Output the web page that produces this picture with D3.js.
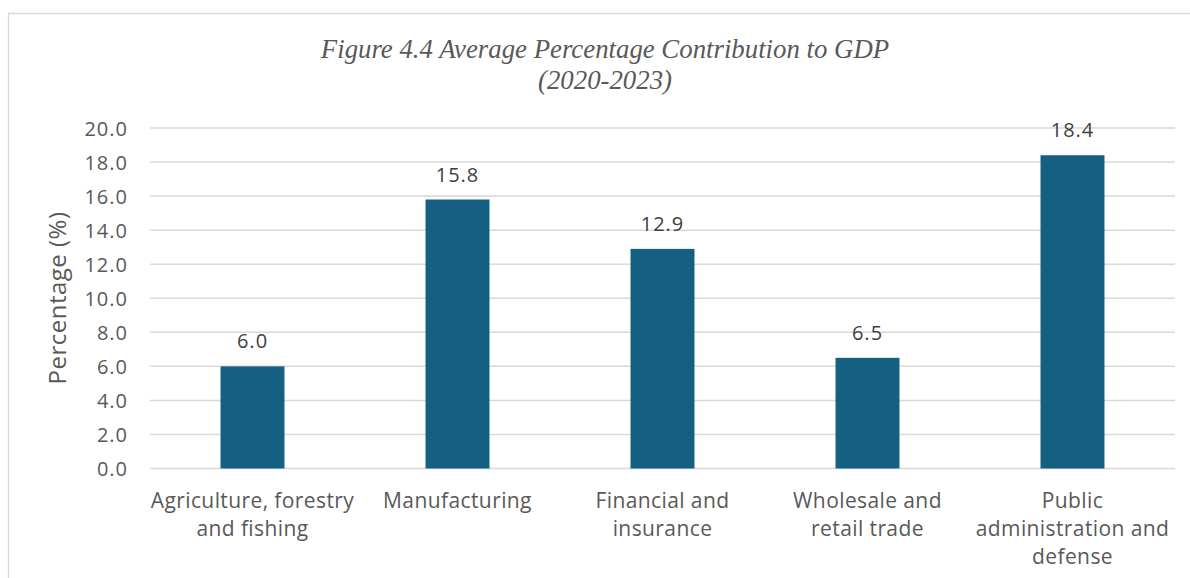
<!DOCTYPE html>
<html>
<head>
<meta charset="utf-8">
<script src="https://cdn.jsdelivr.net/npm/d3@7"></script>
<style>
  html, body { margin: 0; padding: 0; background: #fff; }
  svg { display: block; }
</style>
</head>
<body>
<svg id="chart" width="1190" height="578"></svg>
<script>
// Sectors and their average share of GDP, 2020-2023
const categories = [
  ["Agriculture, forestry", "and fishing"],
  ["Manufacturing"],
  ["Financial and", "insurance"],
  ["Wholesale and", "retail trade"],
  ["Public", "administration and", "defense"]
];
const values = [6.0, 15.8, 12.9, 6.5, 18.4];
const yTicks = [0, 2, 4, 6, 8, 10, 12, 14, 16, 18, 20];
const titleLines = ["Figure 4.4 Average Percentage Contribution to GDP", "(2020-2023)"];
const yTitle = "Percentage (%)";

const svg = d3.select("#chart");
const W = 1190, H = 578;
const plot = { left: 150, right: 1175, top: 128, bottom: 468.5 };
const sans = "'Open Sans', sans-serif";

// Outer chart frame (top and left edges are visible)
svg.append("path")
  .attr("d", `M8.5,${H} V13.5 H${W}`)
  .attr("fill", "none")
  .attr("stroke", "#d9d9d9")
  .attr("stroke-width", 1.3);

const x = d3.scaleBand()
  .domain(d3.range(categories.length))
  .range([plot.left, plot.right])
  .paddingInner(0.688)
  .paddingOuter(0.344);

const y = d3.scaleLinear()
  .domain([0, 20])
  .range([plot.bottom, plot.top]);

// Horizontal gridlines
svg.append("g")
  .selectAll("line")
  .data(yTicks)
  .join("line")
  .attr("x1", plot.left)
  .attr("x2", plot.right)
  .attr("y1", d => y(d))
  .attr("y2", d => y(d))
  .attr("stroke", "#d9d9d9")
  .attr("stroke-width", 1.5);

// Y axis tick labels
const yAxis = d3.axisLeft(y)
  .tickValues(yTicks)
  .tickFormat(d3.format(".1f"))
  .tickSize(0)
  .tickPadding(0);
const gy = svg.append("g")
  .attr("transform", `translate(${plot.left - 22},0)`)
  .call(yAxis);
gy.select(".domain").remove();
gy.selectAll("text")
  .attr("font-family", sans)
  .attr("font-size", 20)
  .attr("letter-spacing", 1)
  .attr("fill", "#595959")
  .attr("dy", "0.36em");

// Bars
svg.append("g")
  .selectAll("rect")
  .data(values)
  .join("rect")
  .attr("x", (d, i) => x(i))
  .attr("width", x.bandwidth())
  .attr("y", d => y(d))
  .attr("height", d => y(0) - y(d))
  .attr("fill", "#156082");

// Value labels above the bars
svg.append("g")
  .selectAll("text")
  .data(values)
  .join("text")
  .attr("x", (d, i) => x(i) + x.bandwidth() / 2)
  .attr("y", d => y(d) - 18)
  .attr("text-anchor", "middle")
  .attr("font-family", sans)
  .attr("font-size", 20)
  .attr("letter-spacing", 1)
  .attr("fill", "#404040")
  .text(d => d3.format(".1f")(d));

// Category labels, wrapped over several lines
const xl = svg.append("g")
  .selectAll("text")
  .data(categories)
  .join("text")
  .attr("text-anchor", "middle")
  .attr("font-family", sans)
  .attr("font-size", 21)
  .attr("letter-spacing", 0.4)
  .attr("fill", "#595959");
xl.each(function(lines, i) {
  d3.select(this).selectAll("tspan")
    .data(lines)
    .join("tspan")
    .attr("x", x(i) + x.bandwidth() / 2)
    .attr("y", (d, k) => 507.5 + k * 28.3)
    .text(d => d);
});

// Y axis title
svg.append("text")
  .attr("transform", `translate(66,298) rotate(-90)`)
  .attr("text-anchor", "middle")
  .attr("font-family", sans)
  .attr("font-size", 24)
  .attr("letter-spacing", 0.5)
  .attr("fill", "#595959")
  .text(yTitle);

// Chart title
svg.append("g")
  .selectAll("text")
  .data(titleLines)
  .join("text")
  .attr("x", 605)
  .attr("y", (d, i) => 57.5 + i * 31)
  .attr("text-anchor", "middle")
  .attr("font-family", "'Liberation Serif', 'Times New Roman', serif")
  .attr("font-style", "italic")
  .attr("font-size", 26.8)
  .attr("fill", "#595959")
  .text(d => d);
</script>
</body>
</html>
